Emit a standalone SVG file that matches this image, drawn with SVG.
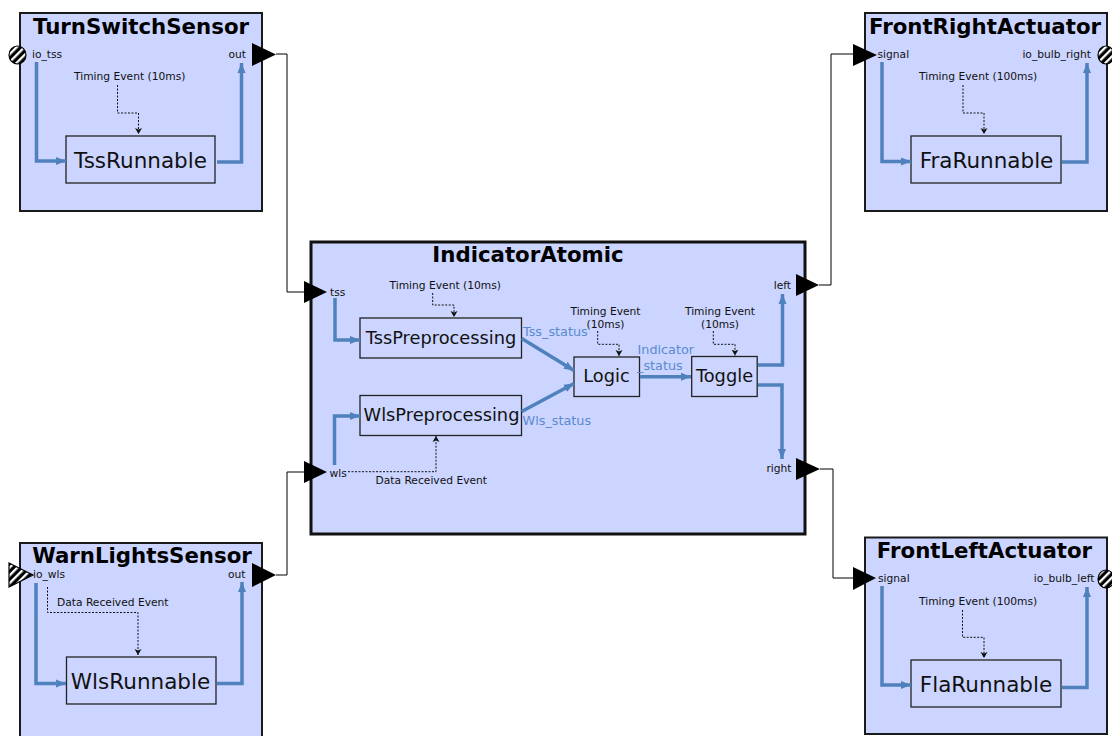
<svg xmlns="http://www.w3.org/2000/svg" width="1112" height="736" viewBox="0 0 1112 736">
<defs>
<style>
.comp{fill:#ccd5ff;stroke:#1a1a1a;stroke-width:2}
.main{fill:#ccd5ff;stroke:#111;stroke-width:3}
.run{fill:#ccd5ff;stroke:#222;stroke-width:1.3}
.title{font-family:"DejaVu Sans",sans-serif;font-weight:bold;font-size:21.3px;fill:#000;text-anchor:middle}
.rtext{font-family:"DejaVu Sans",sans-serif;font-size:21.5px;fill:#111;text-anchor:middle}
.ptext{font-family:"DejaVu Sans",sans-serif;font-size:17.8px;fill:#111;text-anchor:middle}
.small{font-family:"DejaVu Sans",sans-serif;font-size:10.7px;fill:#111}
.mid{text-anchor:middle}
.end{text-anchor:end}
.blab{font-family:"DejaVu Sans",sans-serif;font-size:12.8px;fill:#5a8bd0}
.flow{fill:none;stroke:#4f81bd;stroke-width:3.5;marker-end:url(#ba)}
.ev{fill:none;stroke:#111;stroke-width:1;stroke-dasharray:2 1.5;marker-end:url(#ea)}
.wire{fill:none;stroke:#000;stroke-width:1}
.port{fill:#000}
.hport{fill:url(#hatch);stroke:#000;stroke-width:1.2}
</style>
<marker id="ba" markerUnits="userSpaceOnUse" markerWidth="10" markerHeight="10" viewBox="0 0 10 10" refX="10" refY="5" orient="auto"><path d="M0,1 L10,5 L0,9 z" fill="#4f81bd"/></marker>
<marker id="ea" markerUnits="userSpaceOnUse" markerWidth="6" markerHeight="8" viewBox="0 0 6 8" refX="6" refY="4" orient="auto"><path d="M0,0.5 L6,4 L0,7.5 L1.5,4 z" fill="#111"/></marker>
<pattern id="hatch" patternUnits="userSpaceOnUse" width="5.5" height="5.5" patternTransform="rotate(45)"><rect width="5.5" height="5.5" fill="#000"/><rect width="2.3" height="5.5" fill="#fff"/></pattern>
</defs>

<g id="connectors">
<polyline class="wire" points="276,54 287,54 287,292 304,292"/>
<polyline class="wire" points="276,575 287,575 287,472 304,472"/>
<polyline class="wire" points="819,285 831,285 831,54 854,54"/>
<polyline class="wire" points="820,469 833,469 833,578 854,578"/>
</g>

<g id="TurnSwitchSensor">
<rect class="comp" x="20" y="13" width="242" height="198"/>
<text class="title" x="141" y="34">TurnSwitchSensor</text>
<rect class="run" x="66" y="136" width="149" height="47"/>
<text class="rtext" x="140.5" y="168">TssRunnable</text>
<text class="small" x="32" y="58">io_tss</text>
<text class="small end" x="246" y="58">out</text>
<text class="small" x="74" y="80">Timing Event (10ms)</text>
<polyline class="ev" points="117.5,85 117.5,113 138.5,113 138.5,134"/>
<polyline class="flow" points="36.5,62 36.5,161 66,161"/>
<polyline class="flow" points="217,162 241.5,162 241.5,63"/>
<ellipse class="hport" cx="17.5" cy="55" rx="8.5" ry="9"/>
<polygon class="port" points="252,43 276,54.5 252,66"/>
</g>

<g id="WarnLightsSensor">
<rect class="comp" x="20" y="543" width="242" height="200"/>
<text class="title" x="142" y="563">WarnLightsSensor</text>
<rect class="run" x="66.5" y="657" width="149.5" height="47"/>
<text class="rtext" x="140.5" y="689">WlsRunnable</text>
<text class="small" x="33" y="578">io_wls</text>
<text class="small end" x="245.5" y="578">out</text>
<text class="small" x="57" y="606">Data Received Event</text>
<polyline class="ev" points="47.5,587 47.5,612.5 138,612.5 138,655"/>
<polyline class="flow" points="36,583 36,683.5 66,683.5"/>
<polyline class="flow" points="217,683.5 242,683.5 242,582"/>
<polygon class="hport" points="9,563 33,575 9,587"/>
<polygon class="port" points="252,563 276,575 252,587"/>
</g>

<g id="IndicatorAtomic">
<rect class="main" x="311" y="242" width="494" height="292"/>
<text class="title" x="528" y="262">IndicatorAtomic</text>
<text class="small" x="330" y="296">tss</text>
<text class="small" x="329.5" y="477">wls</text>
<text class="small end" x="791" y="289">left</text>
<text class="small end" x="791.5" y="472">right</text>
<polygon class="port" points="304,281 327,292 304,303"/>
<polygon class="port" points="304,461 327,472 304,483"/>
<polygon class="port" points="796,274 819,285 796,296"/>
<polygon class="port" points="796,458 820,469 796,480"/>
</g>

<g id="TssPreprocessing">
<rect class="run" x="360" y="318" width="161.5" height="40"/>
<text class="ptext" x="441" y="343.5">TssPreprocessing</text>
<text class="small" x="389.5" y="289">Timing Event (10ms)</text>
<polyline class="ev" points="432.7,293 432.7,305 454,305 454,317"/>
<polyline class="flow" points="335,298 335,340 360,340"/>
</g>

<g id="WlsPreprocessing">
<rect class="run" x="360" y="395.5" width="161.5" height="40"/>
<text class="ptext" x="441.5" y="421">WlsPreprocessing</text>
<text class="small" x="375.5" y="484">Data Received Event</text>
<polyline class="ev" points="348,471.7 436,471.7 436,436"/>
<polyline class="flow" points="334.5,465 334.5,416 360,416"/>
</g>

<g id="Logic">
<rect class="run" x="574" y="357" width="65.5" height="39.5"/>
<text class="ptext" x="606.5" y="382">Logic</text>
<text class="small mid" x="605.5" y="315">Timing Event</text>
<text class="small mid" x="605.5" y="327.7">(10ms)</text>
<polyline class="ev" points="597.7,331 597.7,344.3 619,344.3 619,356"/>
<polyline class="flow" points="521.7,338.5 574,370.5"/>
<polyline class="flow" points="521.7,411.5 574,383.5"/>
<text class="blab" x="523" y="336">Tss_status</text>
<text class="blab" x="522.5" y="424.5">Wls_status</text>
</g>

<g id="Toggle">
<rect class="run" x="691.7" y="356.5" width="65.5" height="40"/>
<text class="ptext" x="724.5" y="382">Toggle</text>
<text class="small mid" x="720" y="315">Timing Event</text>
<text class="small mid" x="720" y="327.7">(10ms)</text>
<polyline class="ev" points="713.3,331 713.3,344.3 735,344.3 735,355.5"/>
<polyline class="flow" points="640,376.7 691,376.7"/>
<text class="blab" x="637.5" y="354">Indicator</text>
<text class="blab" x="637" y="369.5">_status</text>
<polyline class="flow" points="758,365 782.5,365 782.5,294"/>
<polyline class="flow" points="758,385 782,385 782,459"/>
</g>

<g id="FrontRightActuator">
<rect class="comp" x="865" y="13" width="242" height="198"/>
<text class="title" x="985" y="34">FrontRightActuator</text>
<rect class="run" x="911" y="136" width="150" height="47"/>
<text class="rtext" x="986.5" y="167.5">FraRunnable</text>
<text class="small" x="877.5" y="58">signal</text>
<text class="small end" x="1091" y="58">io_bulb_right</text>
<text class="small" x="919" y="80">Timing Event (100ms)</text>
<polyline class="ev" points="963,85 963,113 984,113 984,134"/>
<polyline class="flow" points="882,62 882,161.5 911,161.5"/>
<polyline class="flow" points="1062,162 1087,162 1087,63"/>
<polygon class="port" points="853,44 877,55 853,66"/>
<ellipse class="hport" cx="1106" cy="55" rx="8" ry="9"/>
</g>

<g id="FrontLeftActuator">
<rect class="comp" x="865" y="537.5" width="242" height="196.5"/>
<text class="title" x="984.5" y="558">FrontLeftActuator</text>
<rect class="run" x="911" y="660" width="150" height="47"/>
<text class="rtext" x="986" y="692">FlaRunnable</text>
<text class="small" x="878" y="582">signal</text>
<text class="small end" x="1094.5" y="582">io_bulb_left</text>
<text class="small" x="919" y="605">Timing Event (100ms)</text>
<polyline class="ev" points="962.5,610 962.5,637.3 984,637.3 984,658"/>
<polyline class="flow" points="882,586 882,685 911,685"/>
<polyline class="flow" points="1062,687.5 1087,687.5 1087,587"/>
<polygon class="port" points="853,567 876,578 853,590"/>
<ellipse class="hport" cx="1106" cy="579" rx="8" ry="9"/>
</g>
</svg>
